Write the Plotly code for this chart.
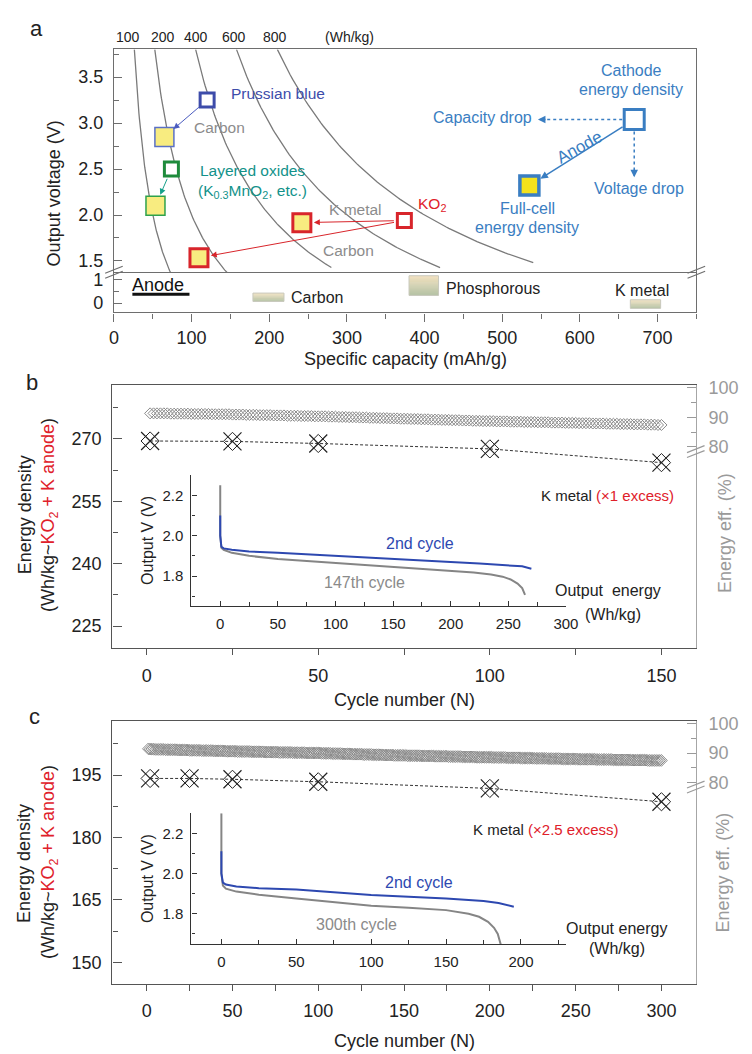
import plotly.graph_objects as go

W, H = 752, 1054
def px(x): return x / W
def py(y): return 1 - y / H

FONT = "Liberation Sans, Arial, Helvetica, sans-serif"
RED = "#e0202a"
GREY_T = "#8c8c8c"
BLUE_C = "#2d48b0"
LEG_BLUE = "#3a7ec2"

# ---------------- Panel a data ----------------
iso_energy = [100, 200, 400, 600, 800]          # Wh/kg guide curves
iso_cap_end = [80, 160, 280, 420, 540]           # mAh/g where each guide curve stops
iso_label_xshift = [-6, 8, 0, -2, -2]
V_TOP = 3.802

cathode_cap = [120, 74, 374]
cathode_v = [3.25, 2.50, 1.94]
cathode_color = ["#3d4caa", "#1e8b3c", "#d8252b"]
arrow_color = ["#4a5bbf", "#16a08a", "#d8252b"]

full_cap = [65, 53.5, 242, 109.5]
full_v = [2.85, 2.10, 1.917, 1.535]
full_edge = ["#5a70c6", "#2ea24c", "#d8252b", "#d8252b"]
full_edge_w = [1.5, 1.5, 3, 3]
full_size = [19, 19, 18, 18]
full_source = [0, 1, 2, 2]

legend_cap = [670, 535]
legend_v = [3.04, 2.32]
legend_cap_drop = 546
legend_v_drop = 2.41

anode_names = ["Carbon", "Phosphorous", "K metal"]
anode_cap0 = [179, 380, 665]
anode_cap1 = [219, 418, 704]
anode_v0 = [0.07, 0.33, -0.23]
anode_v1 = [0.43, 1.18, 0.14]

# ---------------- Panel b data ----------------
b_cycles = [1, 25, 50, 100, 150]
b_energy = [269.5, 269.4, 268.9, 267.6, 264.3]
b_eff_levels = [91.3, 91.2, 91.1, 91.0, 90.9, 90.8, 90.7, 90.6, 90.5, 90.4, 90.3,
                90.2, 90.1, 90.0, 89.9, 89.8, 89.7, 89.6, 89.5, 89.4, 89.3, 89.2, 89.1,
                89.0, 88.9, 88.8, 88.7, 88.6, 88.5, 88.4, 88.3, 88.2, 88.1, 88.0, 87.9,
                87.8, 87.7, 87.6, 87.5, 87.4]
b_eff_counts = [6, 6, 6, 6, 4, 4, 4, 4, 4, 4, 4,
                3, 3, 3, 3, 3, 3, 3, 3, 3, 3, 3, 3,
                3, 3, 3, 4, 4, 4, 4, 4, 4, 4, 4, 4,
                4, 4, 4, 3, 2]
b2_e = [0, 0, 1, 3, 10, 25, 50, 75, 100, 125, 150, 175, 200, 225, 250, 262, 270]
b2_v = [2.10, 2.00, 1.945, 1.937, 1.930, 1.922, 1.915, 1.907, 1.899, 1.891, 1.882,
        1.876, 1.869, 1.862, 1.855, 1.848, 1.836]
b147_e = [0, 0, 1, 3, 10, 25, 50, 75, 100, 125, 150, 175, 200, 220, 235, 245, 252, 258, 262, 264.5]
b147_v = [2.25, 2.00, 1.94, 1.93, 1.915, 1.90, 1.885, 1.875, 1.866, 1.856, 1.847, 1.837,
          1.827, 1.818, 1.808, 1.797, 1.783, 1.763, 1.740, 1.707]

# ---------------- Panel c data ----------------
c_cycles = [2, 25, 50, 100, 200, 300]
c_energy = [194.2, 194.2, 194.0, 193.4, 191.8, 188.6]
c_eff_levels = [91.4, 91.3, 91.2, 91.1, 91.0, 90.9, 90.8, 90.7, 90.6,
                90.5, 90.4, 90.3, 90.2, 90.1, 90.0,
                89.9, 89.8, 89.7, 89.6, 89.5, 89.4, 89.3, 89.2,
                89.1, 89.0, 88.9, 88.8, 88.7, 88.6,
                88.5, 88.4, 88.3, 88.2, 88.1, 88.0,
                87.9, 87.8, 87.7, 87.6, 87.5]
c_eff_counts = [1, 3, 6, 7, 7, 7, 7, 7, 7,
                8, 8, 8, 8, 8, 9,
                6, 6, 6, 6, 6, 6, 6, 8,
                8, 8, 8, 8, 8, 10,
                8, 8, 8, 8, 8, 10,
                10, 10, 10, 10, 9]
c2_e = [0, 0, 1, 3, 10, 25, 50, 75, 100, 125, 150, 175, 185, 195.2]
c2_v = [2.11, 2.00, 1.955, 1.945, 1.935, 1.927, 1.920, 1.906, 1.893, 1.884, 1.876,
        1.863, 1.853, 1.835]
c300_e = [0, 0, 1, 3, 10, 25, 50, 75, 100, 125, 150, 165, 172, 178, 182, 184.5, 186.5, 187.5]
c300_v = [2.30, 2.00, 1.94, 1.925, 1.91, 1.895, 1.876, 1.858, 1.840, 1.830, 1.818,
          1.800, 1.785, 1.760, 1.730, 1.700, 1.649, 1.62]


def expand(levels, counts):
    out = []
    for lv, n in zip(levels, counts):
        out.extend([lv] * n)
    return out

b_eff = expand(b_eff_levels, b_eff_counts)
c_eff = expand(c_eff_levels, c_eff_counts)
b_eff_cyc = list(range(1, len(b_eff) + 1))
c_eff_cyc = list(range(1, len(c_eff) + 1))

fig = go.Figure()

# ---- Panel a: iso-energy guide curves ----
for E, cend in zip(iso_energy, iso_cap_end):
    c0 = E / V_TOP
    caps = [c0 + k * (cend - c0) / 100 for k in range(101)]
    fig.add_trace(go.Scatter(x=caps, y=[E / c for c in caps], mode="lines",
                             line=dict(color="#7a7a7a", width=1.3),
                             xaxis="x2", yaxis="y", hoverinfo="skip"))

fig.add_trace(go.Scatter(x=cathode_cap, y=cathode_v, mode="markers", xaxis="x2", yaxis="y",
                         marker=dict(symbol="square", size=14, color="white", opacity=1,
                                     line=dict(color=cathode_color, width=3))))
fig.add_trace(go.Scatter(x=full_cap, y=full_v, mode="markers", xaxis="x2", yaxis="y",
                         marker=dict(symbol="square", size=full_size, color="#f8ec80", opacity=1,
                                     line=dict(color=full_edge, width=full_edge_w))))
fig.add_trace(go.Scatter(x=[legend_cap[0]], y=[legend_v[0]], mode="markers", xaxis="x2", yaxis="y",
                         marker=dict(symbol="square", size=20, color="white", opacity=1,
                                     line=dict(color=LEG_BLUE, width=3))))
fig.add_trace(go.Scatter(x=[legend_cap[1]], y=[legend_v[1]], mode="markers", xaxis="x2", yaxis="y",
                         marker=dict(symbol="square", size=19, color="#f4e21c", opacity=1,
                                     line=dict(color=LEG_BLUE, width=3.5))))

# ---- Panel b ----
fig.add_trace(go.Scatter(x=b_eff_cyc, y=b_eff, mode="markers", xaxis="x3", yaxis="y4",
                         marker=dict(symbol="diamond-open", size=8.5, color="#8a8a8a",
                                     line=dict(color="#8a8a8a", width=1))))
fig.add_trace(go.Scatter(x=b_cycles, y=b_energy, mode="lines", xaxis="x3", yaxis="y3",
                         line=dict(color="#333", width=1, dash="3px,2px")))
fig.add_trace(go.Scatter(x=b_cycles, y=b_energy, mode="markers", xaxis="x3", yaxis="y3",
                         marker=dict(symbol="x-thin-open", size=18, color="#222",
                                     line=dict(color="#222", width=1.2))))
fig.add_trace(go.Scatter(x=b_cycles, y=b_energy, mode="markers", xaxis="x3", yaxis="y3",
                         marker=dict(symbol="diamond-open", size=14, color="#222",
                                     line=dict(color="#222", width=1))))
fig.add_trace(go.Scatter(x=b147_e, y=b147_v, mode="lines", xaxis="x4", yaxis="y5",
                         line=dict(color="#858585", width=2)))
fig.add_trace(go.Scatter(x=b2_e, y=b2_v, mode="lines", xaxis="x4", yaxis="y5",
                         line=dict(color=BLUE_C, width=2)))

# ---- Panel c ----
fig.add_trace(go.Scatter(x=c_eff_cyc, y=c_eff, mode="markers", xaxis="x5", yaxis="y7",
                         marker=dict(symbol="diamond-open", size=9, color="#8a8a8a",
                                     line=dict(color="#8a8a8a", width=1))))
fig.add_trace(go.Scatter(x=c_cycles, y=c_energy, mode="lines", xaxis="x5", yaxis="y6",
                         line=dict(color="#333", width=1, dash="3px,2px")))
fig.add_trace(go.Scatter(x=c_cycles, y=c_energy, mode="markers", xaxis="x5", yaxis="y6",
                         marker=dict(symbol="x-thin-open", size=18, color="#222",
                                     line=dict(color="#222", width=1.2))))
fig.add_trace(go.Scatter(x=c_cycles, y=c_energy, mode="markers", xaxis="x5", yaxis="y6",
                         marker=dict(symbol="diamond-open", size=14, color="#222",
                                     line=dict(color="#222", width=1))))
fig.add_trace(go.Scatter(x=c300_e, y=c300_v, mode="lines", xaxis="x6", yaxis="y8",
                         line=dict(color="#858585", width=2)))
fig.add_trace(go.Scatter(x=c2_e, y=c2_v, mode="lines", xaxis="x6", yaxis="y8",
                         line=dict(color=BLUE_C, width=2)))

# ---------------- shapes ----------------
shapes = []
top_rgb = (242, 220, 180)
bot_rgb = (155, 174, 134)
NS = 20
for x0, x1, v0, v1 in zip(anode_cap0, anode_cap1, anode_v0, anode_v1):
    for k in range(NS):
        t = (k + 0.5) / NS
        col = "rgb(%d,%d,%d)" % tuple(int(top_rgb[i] + (bot_rgb[i] - top_rgb[i]) * t) for i in range(3))
        ya = v1 - (v1 - v0) * k / NS
        yb = v1 - (v1 - v0) * (k + 1) / NS
        shapes.append(dict(type="rect", xref="x", yref="y2", x0=x0, x1=x1, y0=yb, y1=ya,
                           fillcolor=col, line=dict(width=0)))
    shapes.append(dict(type="rect", xref="x", yref="y2", x0=x0, x1=x1, y0=v0, y1=v1,
                       fillcolor="rgba(0,0,0,0)", line=dict(color="#c9c9bd", width=1)))

shapes.append(dict(type="line", xref="x2", yref="y", x0=legend_cap[0], y0=legend_v[0],
                   x1=legend_cap_drop + 2, y1=legend_v[0], layer="below",
                   line=dict(color=LEG_BLUE, width=1.5, dash="dot")))
shapes.append(dict(type="line", xref="x2", yref="y", x0=legend_cap[0], y0=legend_v[0],
                   x1=legend_cap[0], y1=legend_v_drop + 0.02, layer="below",
                   line=dict(color=LEG_BLUE, width=1.5, dash="dot")))

shapes.append(dict(type="line", xref="paper", yref="paper", x0=px(130.5), x1=px(189),
                   y0=py(289.5), y1=py(289.5), line=dict(color="#111", width=3)))

def brk(xc, yc, col):
    for d in (-2.5, 2.5):
        shapes.append(dict(type="line", xref="paper", yref="paper",
                           x0=px(xc - 9), y0=py(yc + 3.5 + d), x1=px(xc + 9), y1=py(yc - 3.5 + d),
                           line=dict(color=col, width=1.2)))
brk(111.6, 267.3, "#6e6e6e")
brk(708.3, 267.3, "#6e6e6e")
brk(707.7, 448, "#9a9a9a")
brk(707.7, 786, "#9a9a9a")

# ---------------- annotations ----------------
ann = []
def txt(x, y, s, size=16, color="#222", angle=0, xanchor="center"):
    ann.append(dict(x=px(x), y=py(y), xref="paper", yref="paper", text=s, showarrow=False,
                    font=dict(size=size, color=color, family=FONT), textangle=angle,
                    xanchor=xanchor, yanchor="middle"))

txt(32, 22, "a", 22)
txt(28, 378, "b", 22)
txt(30, 715, "c", 22)

for E, sh in zip(iso_energy, iso_label_xshift):
    ann.append(dict(x=E / V_TOP, y=py(30.7), xref="x2", yref="paper", text=str(E),
                    showarrow=False, xshift=sh, font=dict(size=14, color="#222", family=FONT),
                    yanchor="middle"))
txt(353, 30.7, "(Wh/kg)", 14)

txt(50, 188, "Output voltage (V)", 18, angle=-90)
txt(410, 355, "Specific capacity (mAh/g)", 18)

txt(279.5, 87.3, "Prussian blue", 15.5, "#3d4caa")
txt(219.5, 121.7, "Carbon", 15.5, GREY_T)
txt(253.7, 165, "Layered oxides", 15.5, "#12928a")
txt(253.7, 185.5, "(K<sub>0.3</sub>MnO<sub>2</sub>, etc.)", 15.5, "#12928a")
txt(359.2, 204.3, "K metal", 15.5, GREY_T)
txt(351.7, 245, "Carbon", 15.5, GREY_T)
txt(437.3, 199.3, "KO<sub>2</sub>", 15.5, RED)

txt(641.7, 64, "Cathode", 16, LEG_BLUE)
txt(641.7, 83.3, "energy density", 16, LEG_BLUE)
txt(541.7, 111.5, "Capacity drop", 16, LEG_BLUE, xanchor="right")
txt(649.3, 183.3, "Voltage drop", 16, LEG_BLUE)
txt(535, 202.7, "Full-cell", 16, LEG_BLUE)
txt(535, 222, "energy density", 16, LEG_BLUE)
txt(588.3, 141.7, "Anode", 17, LEG_BLUE, angle=-29)

txt(157, 280, "Anode", 18, "#111")
txt(290.7, 292.7, "Carbon", 16, xanchor="left")
txt(450, 284, "Phosphorous", 16, xanchor="left")
txt(653, 286, "K metal", 16)

for i, j in enumerate(full_source):
    ann.append(dict(x=full_cap[i], y=full_v[i], ax=cathode_cap[j], ay=cathode_v[j],
                    xref="x2", yref="y", axref="x2", ayref="y", text="", showarrow=True,
                    arrowhead=2, arrowsize=1.2, arrowwidth=1, arrowcolor=arrow_color[j],
                    standoff=12, startstandoff=9))
ann.append(dict(x=legend_cap[1], y=legend_v[1], ax=legend_cap[0], ay=legend_v[0],
                xref="x2", yref="y", axref="x2", ayref="y", text="", showarrow=True,
                arrowhead=2, arrowsize=1, arrowwidth=1.5, arrowcolor=LEG_BLUE,
                standoff=13, startstandoff=12))
ann.append(dict(x=legend_cap_drop, y=legend_v[0], ax=9, ay=0, xref="x2", yref="y",
                text="", showarrow=True, arrowhead=2, arrowsize=1, arrowwidth=1.5,
                arrowcolor=LEG_BLUE))
ann.append(dict(x=legend_cap[0], y=legend_v_drop, ax=0, ay=-9, xref="x2", yref="y",
                text="", showarrow=True, arrowhead=2, arrowsize=1, arrowwidth=1.5,
                arrowcolor=LEG_BLUE))

txt(20, 511.7, "Energy density", 18, angle=-90)
txt(45, 512, "(Wh/kg~<span style='color:%s'>KO<sub>2</sub> + K anode</span>)" % RED, 18, angle=-90)
txt(737.7, 530, "Energy eff. (%)", 18, "#9a9a9a", angle=-90)
txt(409, 698, "Cycle number (N)", 18)
txt(617, 492.3, "K metal <span style='color:%s'>(×1 excess)</span>" % RED, 15)
txt(425, 541, "2nd cycle", 16, BLUE_C)
txt(368.5, 580, "147th cycle", 16, "#8a8a8a")
txt(617.7, 588.3, "Output  energy", 16)
txt(623.3, 611.7, "(Wh/kg)", 16)

txt(20, 863, "Energy density", 18, angle=-90)
txt(45, 861.7, "(Wh/kg~<span style='color:%s'>KO<sub>2</sub> + K anode</span>)" % RED, 18, angle=-90)
txt(736, 871.7, "Energy eff. (%)", 18, "#9a9a9a", angle=-90)
txt(409, 1041.7, "Cycle number (N)", 18)
txt(553.8, 828.3, "K metal <span style='color:%s'>(×2.5 excess)</span>" % RED, 15)
txt(424.3, 881.7, "2nd cycle", 16, BLUE_C)
txt(359.7, 925, "300th cycle", 16, "#8a8a8a")
txt(626.7, 928.3, "Output energy", 16)
txt(626.7, 948.3, "(Wh/kg)", 16)

# ---------------- axes ----------------
AX_A = "#6e6e6e"
AX_B = "#555555"
base = dict(showgrid=False, zeroline=False, showline=True, linewidth=1.3)

def tf(size, color="#222"):
    return dict(size=size, color=color, family=FONT)

layout = dict(
    width=W, height=H, margin=dict(l=0, r=0, t=0, b=0),
    paper_bgcolor="white", plot_bgcolor="rgba(0,0,0,0)", showlegend=False, hovermode=False,
    font=dict(family=FONT, color="#222"),
    shapes=shapes, annotations=ann,
    xaxis=dict(base, domain=[px(111.6), px(708.3)], range=[0, 750], anchor="y2",
               tickvals=[0, 100, 200, 300, 400, 500, 600, 700], ticks="outside", ticklen=8,
               tickcolor=AX_A, linecolor=AX_A, tickfont=tf(18), ticklabelstandoff=1,
               minor=dict(tickvals=[50, 150, 250, 350, 450, 550, 650, 750], ticks="outside",
                          ticklen=5, tickcolor=AX_A)),
    xaxis2=dict(base, domain=[px(111.6), px(708.3)], matches="x", anchor="y",
                showticklabels=False, ticks="", linecolor=AX_A, mirror=True),
    yaxis=dict(base, domain=[py(267.3), py(42.7)], range=[1.377, 3.802], anchor="x2",
               tickvals=[1.5, 2.0, 2.5, 3.0, 3.5], ticktext=["1.5", "2.0", "2.5", "3.0", "3.5"],
               ticks="inside", ticklen=8, tickcolor=AX_A, linecolor=AX_A, mirror=True,
               tickfont=tf(18), ticklabelstandoff=6,
               minor=dict(tickvals=[1.75, 2.25, 2.75, 3.25, 3.75], ticks="inside", ticklen=5,
                          tickcolor=AX_A)),
    yaxis2=dict(base, domain=[py(307.7), py(267.3)], range=[-0.403, 1.33], anchor="x",
                tickvals=[0, 1], ticktext=["0", "1"], ticks="inside", ticklen=8,
                tickcolor=AX_A, linecolor=AX_A, mirror=True, tickfont=tf(18), ticklabelstandoff=6,
                minor=dict(tickvals=[0.5], ticks="inside", ticklen=5, tickcolor=AX_A)),
    xaxis3=dict(base, domain=[px(110), px(707.7)], range=[-10, 160], anchor="y3",
                tickvals=[0, 50, 100, 150], ticks="outside", ticklen=6, tickcolor=AX_B,
                linecolor=AX_B, mirror=True, tickfont=tf(18), ticklabelstandoff=5,
                minor=dict(tickvals=[25, 75, 125], ticks="outside", ticklen=6, tickcolor=AX_B)),
    yaxis3=dict(base, domain=[py(645.7), py(380.7)], range=[219.8, 283], anchor="x3",
                tickvals=[225, 240, 255, 270], ticks="inside", ticklen=9, tickcolor=AX_B,
                linecolor=AX_B, tickfont=tf(18), ticklabelstandoff=6,
                minor=dict(tickvals=[232.5, 247.5, 262.5, 277.5], ticks="inside", ticklen=5,
                           tickcolor=AX_B)),
    yaxis4=dict(base, overlaying="y3", side="right", anchor="x3", range=[12.5, 100.9],
                tickvals=[80, 90, 100], ticks="inside", ticklen=9, tickcolor="#9a9a9a",
                linecolor="#a6a6a6", tickfont=tf(18, "#9a9a9a"), ticklabelstandoff=8,
                minor=dict(tickvals=[85, 95], ticks="inside", ticklen=5, tickcolor="#9a9a9a")),
    xaxis4=dict(base, domain=[px(191), px(574.7)], range=[-25, 300], anchor="y5",
                tickvals=[0, 50, 100, 150, 200, 250, 300], ticks="inside", ticklen=5,
                tickcolor="#333", linecolor="#333", tickfont=tf(15), ticklabelstandoff=4,
                minor=dict(tickvals=[25, 75, 125, 175, 225, 275], ticks="inside", ticklen=3.5,
                           tickcolor="#333")),
    yaxis5=dict(base, domain=[py(603.3), py(471.7)], range=[1.653, 2.30], anchor="x4",
                tickvals=[1.8, 2.0, 2.2], ticktext=["1.8", "2.0", "2.2"], ticks="inside",
                ticklen=5, tickcolor="#333", linecolor="#333", tickfont=tf(15),
                ticklabelstandoff=4, title=dict(text="Output V (V)", font=tf(16), standoff=4),
                minor=dict(tickvals=[1.7, 1.9, 2.1], ticks="inside", ticklen=3.5, tickcolor="#333")),
    xaxis5=dict(base, domain=[px(110), px(707.7)], range=[-20, 320], anchor="y6",
                tickvals=[0, 50, 100, 150, 200, 250, 300], ticks="outside", ticklen=6,
                tickcolor=AX_B, linecolor=AX_B, mirror=True, tickfont=tf(18), ticklabelstandoff=5,
                minor=dict(tickvals=[25, 75, 125, 175, 225, 275], ticks="outside", ticklen=6,
                           tickcolor=AX_B)),
    yaxis6=dict(base, domain=[py(984), py(719.3)], range=[144.9, 208.05], anchor="x5",
                tickvals=[150, 165, 180, 195], ticks="inside", ticklen=9, tickcolor=AX_B,
                linecolor=AX_B, tickfont=tf(18), ticklabelstandoff=6,
                minor=dict(tickvals=[157.5, 172.5, 187.5, 202.5], ticks="inside", ticklen=5,
                           tickcolor=AX_B)),
    yaxis7=dict(base, overlaying="y6", side="right", anchor="x5", range=[12.6, 100.8],
                tickvals=[80, 90, 100], ticks="inside", ticklen=9, tickcolor="#9a9a9a",
                linecolor="#a6a6a6", tickfont=tf(18, "#9a9a9a"), ticklabelstandoff=8,
                minor=dict(tickvals=[85, 95], ticks="inside", ticklen=5, tickcolor="#9a9a9a")),
    xaxis6=dict(base, domain=[px(191), px(574.7)], range=[-20, 230], anchor="y8",
                tickvals=[0, 50, 100, 150, 200], ticks="inside", ticklen=5,
                tickcolor="#333", linecolor="#333", tickfont=tf(15), ticklabelstandoff=4,
                minor=dict(tickvals=[25, 75, 125, 175, 225], ticks="inside", ticklen=3.5,
                           tickcolor="#333")),
    yaxis8=dict(base, domain=[py(944.3), py(812.3)], range=[1.649, 2.30], anchor="x6",
                tickvals=[1.8, 2.0, 2.2], ticktext=["1.8", "2.0", "2.2"], ticks="inside",
                ticklen=5, tickcolor="#333", linecolor="#333", tickfont=tf(15),
                ticklabelstandoff=4, title=dict(text="Output V (V)", font=tf(16), standoff=4),
                minor=dict(tickvals=[1.7, 1.9, 2.1], ticks="inside", ticklen=3.5, tickcolor="#333")),
)

fig.update_layout(layout)
fig.write_html("out.html", config={"displayModeBar": False},
               post_script="document.body.style.margin='0px';"
                           "document.documentElement.style.margin='0px';"
                           "document.body.style.overflow='hidden';")
